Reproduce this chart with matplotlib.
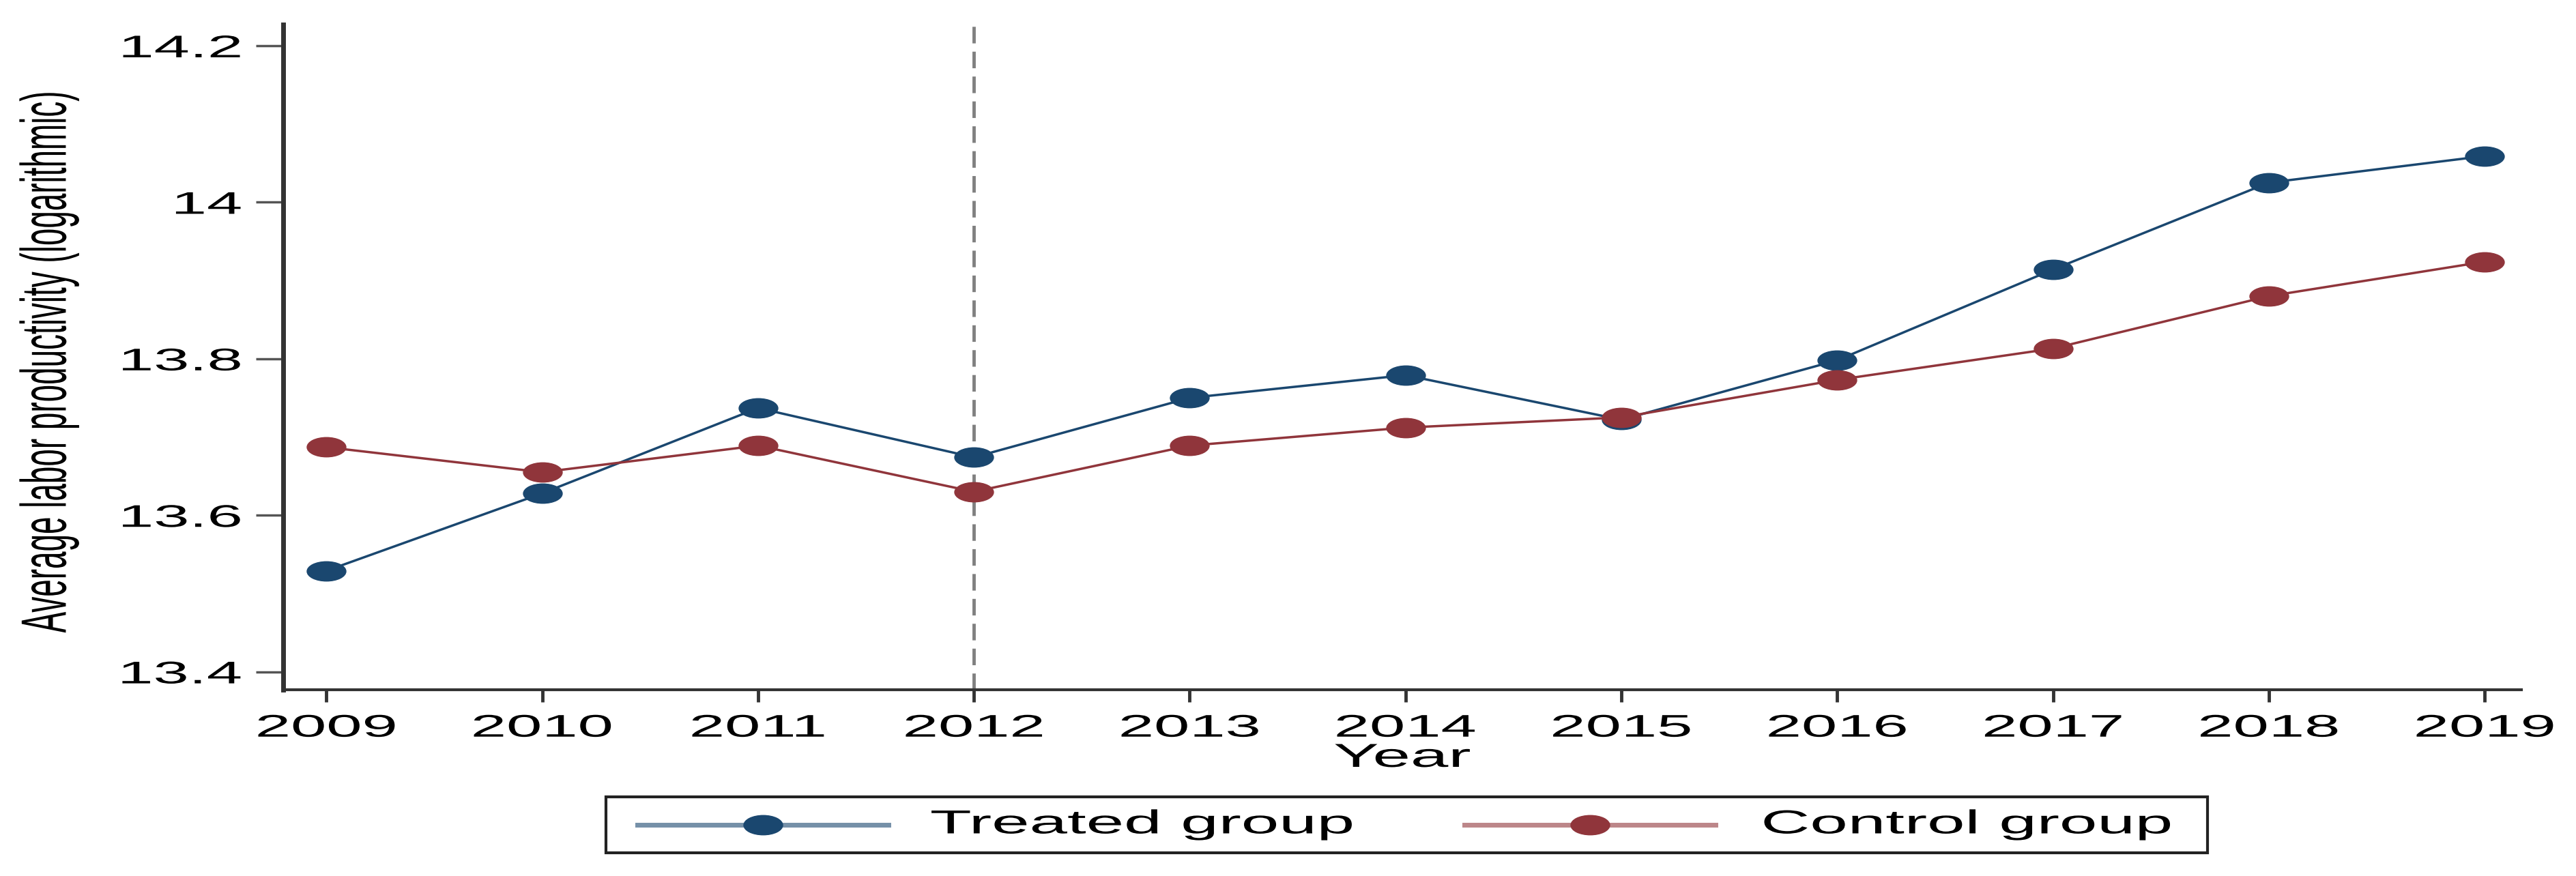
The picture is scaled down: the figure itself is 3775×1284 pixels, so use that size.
import matplotlib
matplotlib.use('Agg')
import matplotlib.pyplot as plt
from matplotlib.patheffects import AbstractPathEffect
from matplotlib.transforms import Affine2D
from matplotlib.path import Path
from matplotlib.lines import Line2D
from matplotlib.patches import Rectangle

years = [2009, 2010, 2011, 2012, 2013, 2014, 2015, 2016, 2017, 2018, 2019]
treated = [13.529, 13.628, 13.737, 13.674, 13.750, 13.779, 13.722, 13.798, 13.914, 14.025, 14.059]
control = [13.687, 13.655, 13.689, 13.630, 13.689, 13.712, 13.725, 13.773, 13.813, 13.880, 13.924]
yticks = [13.4, 13.6, 13.8, 14.0, 14.2]
ytick_labels = ['13.4', '13.6', '13.8', '14', '14.2']
policy_year = 2012
series_names = ['Treated group', 'Control group']

blue = '#1a476f'
red = '#90353b'
W, H = 3775, 1284
SX = 2.05  # the original graph is stretched sideways, text included


class Stretch(AbstractPathEffect):
    # widen the drawn glyphs horizontally around one anchor of their ink box
    def __init__(self, sx, anchor='center'):
        super().__init__()
        self.sx = sx
        self.anchor = anchor

    def draw_path(self, renderer, gc, tpath, affine, rgbFace=None):
        ext = tpath.get_extents(affine)
        if self.anchor == 'left':
            cx = ext.x0
        elif self.anchor == 'right':
            cx = ext.x1
        else:
            cx = (ext.x0 + ext.x1) / 2
        aff = affine + Affine2D().translate(-cx, 0).scale(self.sx, 1).translate(cx, 0)
        renderer.draw_path(gc, tpath, aff, rgbFace)


# markers are ellipses too (2:1) because of the stretch
ellipse = Path.unit_circle().transformed(Affine2D().scale(2, 1))

plt.rcParams['font.family'] = ['Liberation Sans', 'DejaVu Sans']

fig = plt.figure(figsize=(W / 100, H / 100), dpi=100)
ax_l, ax_r, ax_t, ax_b = 415, 3695, 36, 1011
ax = fig.add_axes([ax_l / W, 1 - ax_b / H, (ax_r - ax_l) / W, (ax_b - ax_t) / H])

ax.plot(years, treated, color=blue, lw=2.5, marker=ellipse, ms=41, zorder=3)
ax.plot(years, control, color=red, lw=2.5, marker=ellipse, ms=41, zorder=3)
ax.axvline(policy_year, color='#808080', lw=3.5, ls=(0, (5, 2.5)), zorder=1)

ax.set_xlim(2008.80, 2019.17)
ax.set_ylim(13.377, 14.227)
ax.set_xticks(years)
ax.set_yticks(yticks)
ax.set_yticklabels(ytick_labels)

for s in ['top', 'right']:
    ax.spines[s].set_visible(False)
ax.spines['left'].set_linewidth(5)
ax.spines['bottom'].set_linewidth(3)
ax.spines['left'].set_color('#333333')
ax.spines['bottom'].set_color('#333333')
ax.tick_params(axis='x', labelsize=33, width=3.5, length=13, color='#333333', pad=12)
ax.tick_params(axis='y', labelsize=33, width=2.5, length=29, color='#555555', pad=15)

for lab in ax.get_xticklabels():
    lab.set_path_effects([Stretch(SX)])
for lab in ax.get_yticklabels():
    lab.set_path_effects([Stretch(SX, 'right')])

ax.set_xlabel('Year', fontsize=35)
ax.xaxis.set_label_coords(0.5, -0.080)
ax.xaxis.label.set_va('top')
ax.xaxis.label.set_path_effects([Stretch(SX)])

ax.set_ylabel('Average labor productivity (logarithmic)', fontsize=33)
ax.yaxis.set_label_coords((72 - ax_l) / (ax_r - ax_l), 1 - (530 - ax_t) / (ax_b - ax_t))
ax.yaxis.label.set_va('center')
ax.yaxis.label.set_path_effects([Stretch(SX)])

# legend, laid out by hand so the widened text fits in its box
ly = 1 - 1209 / H
fig.add_artist(Rectangle((888 / W, 1 - 1250 / H), (3235 - 888) / W, (1250 - 1168) / H,
                         transform=fig.transFigure, fill=False, ec='#222222', lw=3))
handles = [(934, 1302, 1118, 1364, blue), (2146, 2514, 2330, 2583, red)]
for (x0, x1, xm, xt, c), name in zip(handles, series_names):
    fig.add_artist(Line2D([x0 / W, x1 / W], [ly, ly], transform=fig.transFigure,
                          color=c, lw=5, alpha=0.6))
    fig.add_artist(Line2D([xm / W], [ly], transform=fig.transFigure, color=c,
                          marker=ellipse, ms=41, ls='none'))
    t = fig.text(xt / W, ly, name, fontsize=35, ha='left', va='center')
    t.set_path_effects([Stretch(SX, 'left')])

fig.savefig('out.png', dpi=100)
